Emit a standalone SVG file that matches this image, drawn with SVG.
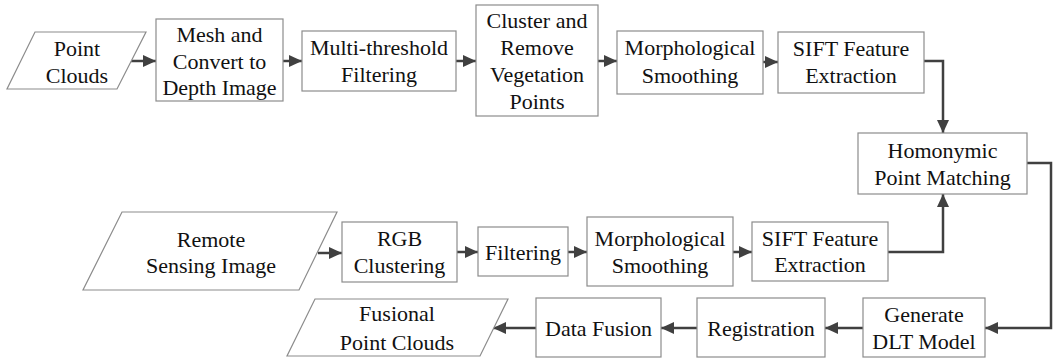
<svg xmlns="http://www.w3.org/2000/svg" width="1055" height="362" viewBox="0 0 1055 362">
  <style>
    .box { fill: #ffffff; stroke: #8c8c8c; stroke-width: 1.2; }
    .lbl { font-size: 22px; fill: #111111; text-anchor: middle; dominant-baseline: central; }
    .wire { fill: none; stroke: #404040; stroke-width: 2.5; marker-end: url(#head); }
  </style>
  <defs>
    <marker id="head" markerUnits="userSpaceOnUse" markerWidth="14" markerHeight="14" refX="13" refY="7" orient="auto">
      <path d="M0,1 L13,7 L0,13 Z" fill="#404040"/>
    </marker>
  </defs>

  <rect width="1055" height="362" fill="#ffffff"/>

  <!-- connectors -->
  <g id="connectors">
    <line class="wire" x1="131" y1="61" x2="156" y2="61"/>
    <line class="wire" x1="283" y1="61" x2="302" y2="61"/>
    <line class="wire" x1="456" y1="61" x2="476" y2="61"/>
    <line class="wire" x1="598" y1="61" x2="617" y2="61"/>
    <line class="wire" x1="763" y1="62" x2="778" y2="62"/>
    <polyline class="wire" points="924,61 943,61 943,133"/>
    <polyline class="wire" points="1027,163 1051,163 1051,328 985,328"/>
    <line class="wire" x1="863" y1="328" x2="825" y2="328"/>
    <line class="wire" x1="697" y1="328" x2="661" y2="328"/>
    <line class="wire" x1="536" y1="328" x2="493" y2="328"/>
    <line class="wire" x1="318" y1="253" x2="342" y2="253"/>
    <line class="wire" x1="457" y1="252" x2="478" y2="252"/>
    <line class="wire" x1="568" y1="252" x2="587" y2="252"/>
    <line class="wire" x1="733" y1="252" x2="752" y2="252"/>
    <polyline class="wire" points="888,252 943,252 943,194"/>
  </g>

  <!-- all labels share one serif face -->
  <g font-family="Liberation Serif, Times New Roman, DejaVu Serif, serif">

  <!-- top row -->
  <g id="point-clouds">
    <polygon class="box" points="35,32 146,32 117,89 7,89"/>
    <text class="lbl" x="77" y="48">Point</text>
    <text class="lbl" x="77" y="75">Clouds</text>
  </g>
  <g id="mesh-convert">
    <rect class="box" x="156" y="19" width="127" height="82"/>
    <text class="lbl" x="219.5" y="34">Mesh and</text>
    <text class="lbl" x="219.5" y="61">Convert to</text>
    <text class="lbl" x="219.5" y="87">Depth Image</text>
  </g>
  <g id="multi-threshold">
    <rect class="box" x="302" y="31" width="154" height="60"/>
    <text class="lbl" x="379" y="47">Multi-threshold</text>
    <text class="lbl" x="379" y="74">Filtering</text>
  </g>
  <g id="cluster-remove">
    <rect class="box" x="476" y="5" width="122" height="111"/>
    <text class="lbl" x="537" y="20">Cluster and</text>
    <text class="lbl" x="537" y="47">Remove</text>
    <text class="lbl" x="537" y="74">Vegetation</text>
    <text class="lbl" x="537" y="101">Points</text>
  </g>
  <g id="morph-top">
    <rect class="box" x="617" y="31" width="146" height="63"/>
    <text class="lbl" x="690" y="47">Morphological</text>
    <text class="lbl" x="690" y="75">Smoothing</text>
  </g>
  <g id="sift-top">
    <rect class="box" x="778" y="32" width="146" height="61"/>
    <text class="lbl" x="851" y="48">SIFT Feature</text>
    <text class="lbl" x="851" y="75">Extraction</text>
  </g>

  <!-- matching -->
  <g id="homonymic">
    <rect class="box" x="858" y="133" width="169" height="61"/>
    <text class="lbl" x="942.5" y="150">Homonymic</text>
    <text class="lbl" x="942.5" y="177">Point Matching</text>
  </g>

  <!-- middle row -->
  <g id="remote-sensing">
    <polygon class="box" points="122,212 337,212 299,290 83,290"/>
    <text class="lbl" x="211" y="239">Remote</text>
    <text class="lbl" x="211" y="265">Sensing Image</text>
  </g>
  <g id="rgb-clustering">
    <rect class="box" x="342" y="222" width="115" height="60"/>
    <text class="lbl" x="399.5" y="238">RGB</text>
    <text class="lbl" x="399.5" y="265">Clustering</text>
  </g>
  <g id="filtering">
    <rect class="box" x="478" y="227" width="90" height="49"/>
    <text class="lbl" x="523" y="252">Filtering</text>
  </g>
  <g id="morph-bottom">
    <rect class="box" x="587" y="217" width="146" height="69"/>
    <text class="lbl" x="660" y="238">Morphological</text>
    <text class="lbl" x="660" y="265">Smoothing</text>
  </g>
  <g id="sift-bottom">
    <rect class="box" x="752" y="222" width="136" height="59"/>
    <text class="lbl" x="820" y="238">SIFT Feature</text>
    <text class="lbl" x="820" y="264">Extraction</text>
  </g>

  <!-- bottom row -->
  <g id="dlt-model">
    <rect class="box" x="863" y="298" width="122" height="59"/>
    <text class="lbl" x="924" y="314">Generate</text>
    <text class="lbl" x="924" y="341">DLT Model</text>
  </g>
  <g id="registration">
    <rect class="box" x="697" y="298" width="128" height="59"/>
    <text class="lbl" x="761" y="328">Registration</text>
  </g>
  <g id="data-fusion">
    <rect class="box" x="536" y="298" width="125" height="59"/>
    <text class="lbl" x="598.5" y="328">Data Fusion</text>
  </g>
  <g id="fusional-clouds">
    <polygon class="box" points="315,299 508,299 480,356 287,356"/>
    <text class="lbl" x="397" y="313">Fusional</text>
    <text class="lbl" x="397" y="342">Point Clouds</text>
  </g>

  </g>
</svg>
